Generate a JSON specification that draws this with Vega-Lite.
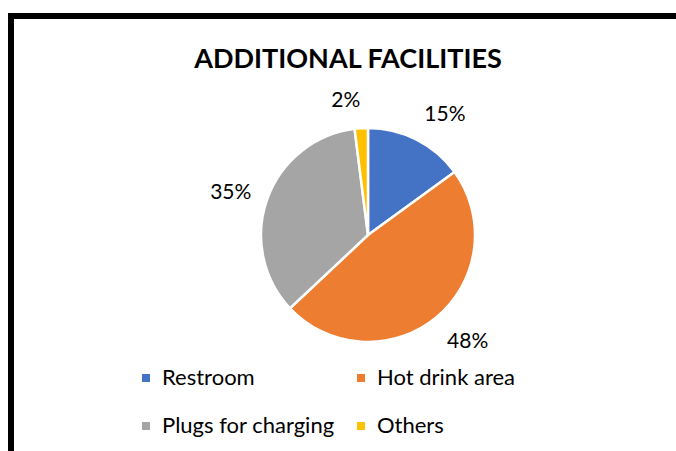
{
  "$schema": "https://vega.github.io/schema/vega-lite/v6.json",
  "autosize": "none",
  "width": 665,
  "height": 438,
  "padding": {"left": 11, "top": 16, "right": 0, "bottom": 0},
  "background": "white",
  "view": {"stroke": "black", "strokeWidth": 6, "fill": "white", "strokeDash": [665, 438, 1200]},
  "config": {
    "font": "Lato"
  },
  "title": {
    "text": "ADDITIONAL FACILITIES",
    "fontSize": 27,
    "fontWeight": "bold",
    "font": "Lato",
    "color": "black",
    "anchor": "middle",
    "dx": 4.5,
    "dy": 58,
    "offset": 0
  },
  "data": {
    "values": [
      {"facility": "Restroom", "share": 15, "order": 1},
      {"facility": "Hot drink area", "share": 48, "order": 2},
      {"facility": "Plugs for charging", "share": 35, "order": 3},
      {"facility": "Others", "share": 2, "order": 4}
    ]
  },
  "encoding": {
    "theta": {"field": "share", "type": "quantitative", "stack": true},
    "order": {"field": "order", "type": "quantitative"}
  },
  "layer": [
    {
      "mark": {"type": "arc", "outerRadius": 107, "stroke": "white", "strokeWidth": 2.5, "x": {"expr": "width/2+24.5"}},
      "encoding": {
        "color": {
          "field": "facility",
          "type": "nominal",
          "sort": ["Restroom", "Hot drink area", "Plugs for charging", "Others"],
          "scale": {"domain": ["Restroom", "Hot drink area", "Plugs for charging", "Others"], "range": ["#4472C4", "#ED7D31", "#A5A5A5", "#FFC000"]},
          "legend": {
            "title": null,
            "orient": "none",
            "legendX": 124,
            "legendY": 351,
            "direction": "horizontal",
            "columns": 2,
            "symbolType": "square",
            "symbolSize": 64,
            "symbolStrokeWidth": 0,
            "labelFontSize": 22,
            "labelFont": "Lato",
            "labelColor": "#000000",
            "labelOffset": 5,
            "columnPadding": 15,
            "rowPadding": 26,
            "gridAlign": "all",
            "padding": 0,
            "labelLimit": 400
          }
        }
      }
    },
    {
      "transform": [
        {"calculate": "datum.share + '%'", "as": "label"}
      ],
      "mark": {
        "type": "text",
        "radius": 124,
        "fontSize": 21,
        "font": "Lato",
        "color": "black",
        "x": {"expr": "width/2+24.5"},
        "align": {"expr": "(datum.share_start + datum.share_end) / 2 > 50 ? 'right' : 'left'"},
        "baseline": {"expr": "cos((datum.share_start + datum.share_end) / 100 * PI) > 0.5 ? 'bottom' : (cos((datum.share_start + datum.share_end) / 100 * PI) < -0.5 ? 'top' : 'middle')"}
      },
      "encoding": {
        "text": {"field": "label", "type": "nominal"}
      }
    }
  ]
}
